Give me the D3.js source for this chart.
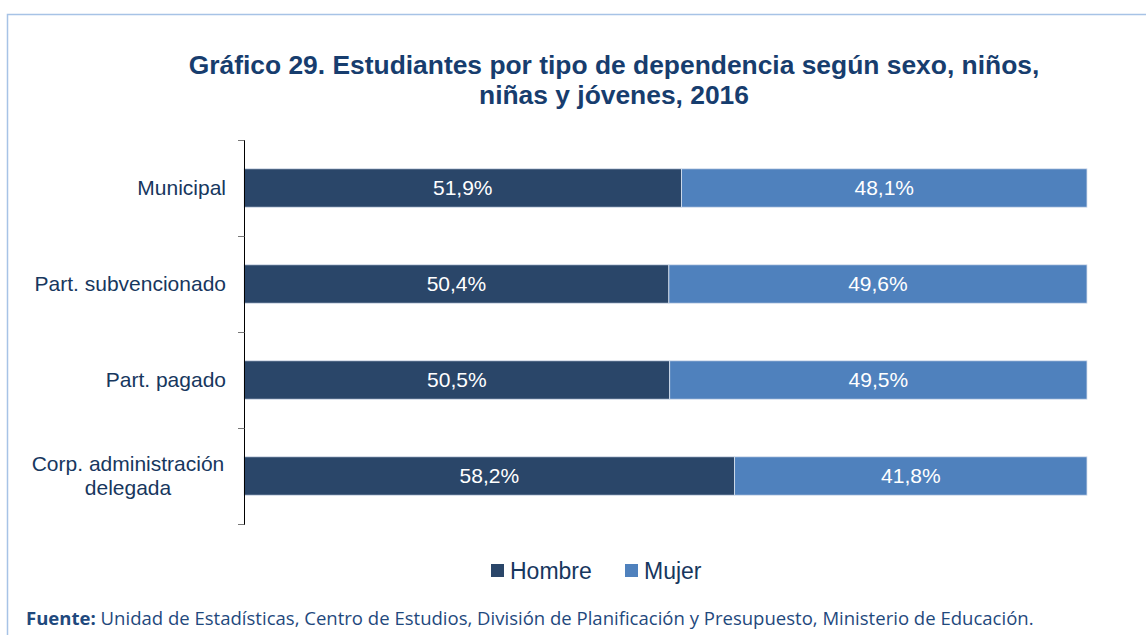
<!DOCTYPE html>
<html><head><meta charset="utf-8">
<script src="https://cdn.jsdelivr.net/npm/d3@7"></script>
<style>
html,body{margin:0;padding:0;background:#fff;}
svg{display:block;}
</style></head>
<body>
<svg id="chart" width="1146" height="635"></svg>
<script>
const categories = ["Municipal", "Part. subvencionado", "Part. pagado", "Corp. administración delegada"];
const hombre = [51.9, 50.4, 50.5, 58.2];
const mujer = [48.1, 49.6, 49.5, 41.8];
const seriesNames = ["Hombre", "Mujer"];
const colors = ["#2a4669", "#4f81bd"];
const titleLines = ["Gráfico 29. Estudiantes por tipo de dependencia según sexo, niños,", "niñas y jóvenes, 2016"];
const sourceBold = "Fuente:";
const sourceText = " Unidad de Estadísticas, Centro de Estudios, División de Planificación y Presupuesto, Ministerio de Educación.";

const svg = d3.select("#chart");
const textColor = "#17375e";
const sans = "'Liberation Sans', Arial, sans-serif";

// frame
svg.append("path").attr("d", "M7.5,635 L7.5,14.5 L1146,14.5")
  .attr("fill", "none").attr("stroke", "#a7c3e6").attr("stroke-width", 1.5);

// title
svg.append("text").attr("text-anchor", "middle")
  .attr("font-family", sans).attr("font-weight", "bold")
  .attr("font-size", 26.4).attr("fill", "#173d6e")
  .selectAll("tspan").data(titleLines).join("tspan")
  .attr("x", 614).attr("y", (d, i) => i === 0 ? 74 : 104).text(d => d);

const x = d3.scaleLinear().domain([0, 100]).range([244, 1087]);
const y = d3.scaleBand().domain(categories).range([140, 524]).paddingInner(0.6).paddingOuter(0.3);
const yOuter = d3.scaleBand().domain(categories).range([140, 524]);

const data = categories.map((c, i) => ({cat: c, Hombre: hombre[i], Mujer: mujer[i]}));
const stacked = d3.stack().keys(seriesNames)(data);

const g = svg.append("g");
stacked.forEach((s, si) => {
  g.selectAll(null).data(s).join("rect")
    .attr("x", d => x(d[0]))
    .attr("y", d => y(d.data.cat))
    .attr("width", d => x(d[1]) - x(d[0]))
    .attr("height", y.bandwidth())
    .attr("fill", colors[si])
    .attr("stroke", "#d9e2ee").attr("stroke-width", 0.8);
  g.selectAll(null).data(s).join("text")
    .attr("x", d => (x(d[0]) + x(d[1])) / 2)
    .attr("y", d => y(d.data.cat) + y.bandwidth() / 2)
    .attr("dy", "0.35em").attr("text-anchor", "middle")
    .attr("font-family", sans).attr("font-size", 21)
    .attr("fill", "#ffffff")
    .text(d => (d[1] - d[0]).toFixed(1).replace(".", ",") + "%");
});

// axis
const axisG = svg.append("g").attr("transform", "translate(244,0)");
axisG.append("line").attr("x1", 0.5).attr("x2", 0.5).attr("y1", 140).attr("y2", 525)
  .attr("stroke", "#000").attr("stroke-width", 1);
const tickPos = categories.map(c => yOuter(c)).concat([524]);
axisG.selectAll(".tk").data(tickPos).join("line")
  .attr("x1", -6).attr("x2", 0.5).attr("y1", d => d + 0.5).attr("y2", d => d + 0.5)
  .attr("stroke", "#777").attr("stroke-width", 1);

// category labels
const lab = svg.append("g");
categories.forEach(c => {
  const cy = y(c) + y.bandwidth() / 2;
  const lines = c === "Corp. administración delegada" ? ["Corp. administración", "delegada"] : [c];
  const t = lab.append("text").attr("text-anchor", lines.length > 1 ? "middle" : "end")
    .attr("font-family", sans).attr("font-size", 21).attr("fill", textColor);
  const lh = 24;
  lines.forEach((l, i) => {
    t.append("tspan").attr("x", lines.length > 1 ? 128 : 226).attr("y", cy + (i - (lines.length - 1) / 2) * lh)
      .attr("dy", "0.35em").text(l);
  });
});

// legend
const legend = svg.append("g");
const legX = [491, 625];
seriesNames.forEach((n, i) => {
  legend.append("rect").attr("x", legX[i]).attr("y", 564).attr("width", 13).attr("height", 13).attr("fill", colors[i]);
  legend.append("text").attr("x", legX[i] + 19).attr("y", 571).attr("dy", "0.35em")
    .attr("font-family", sans).attr("font-size", 23).attr("fill", textColor).text(n);
});

// source
const src = svg.append("text").attr("x", 26).attr("y", 625)
  .attr("font-family", "'Open Sans', 'Noto Sans', sans-serif").attr("font-size", 18.55).attr("fill", "#1f497d");
src.append("tspan").attr("font-weight", "bold").text(sourceBold);
src.append("tspan").text(sourceText);
</script>
</body></html>
